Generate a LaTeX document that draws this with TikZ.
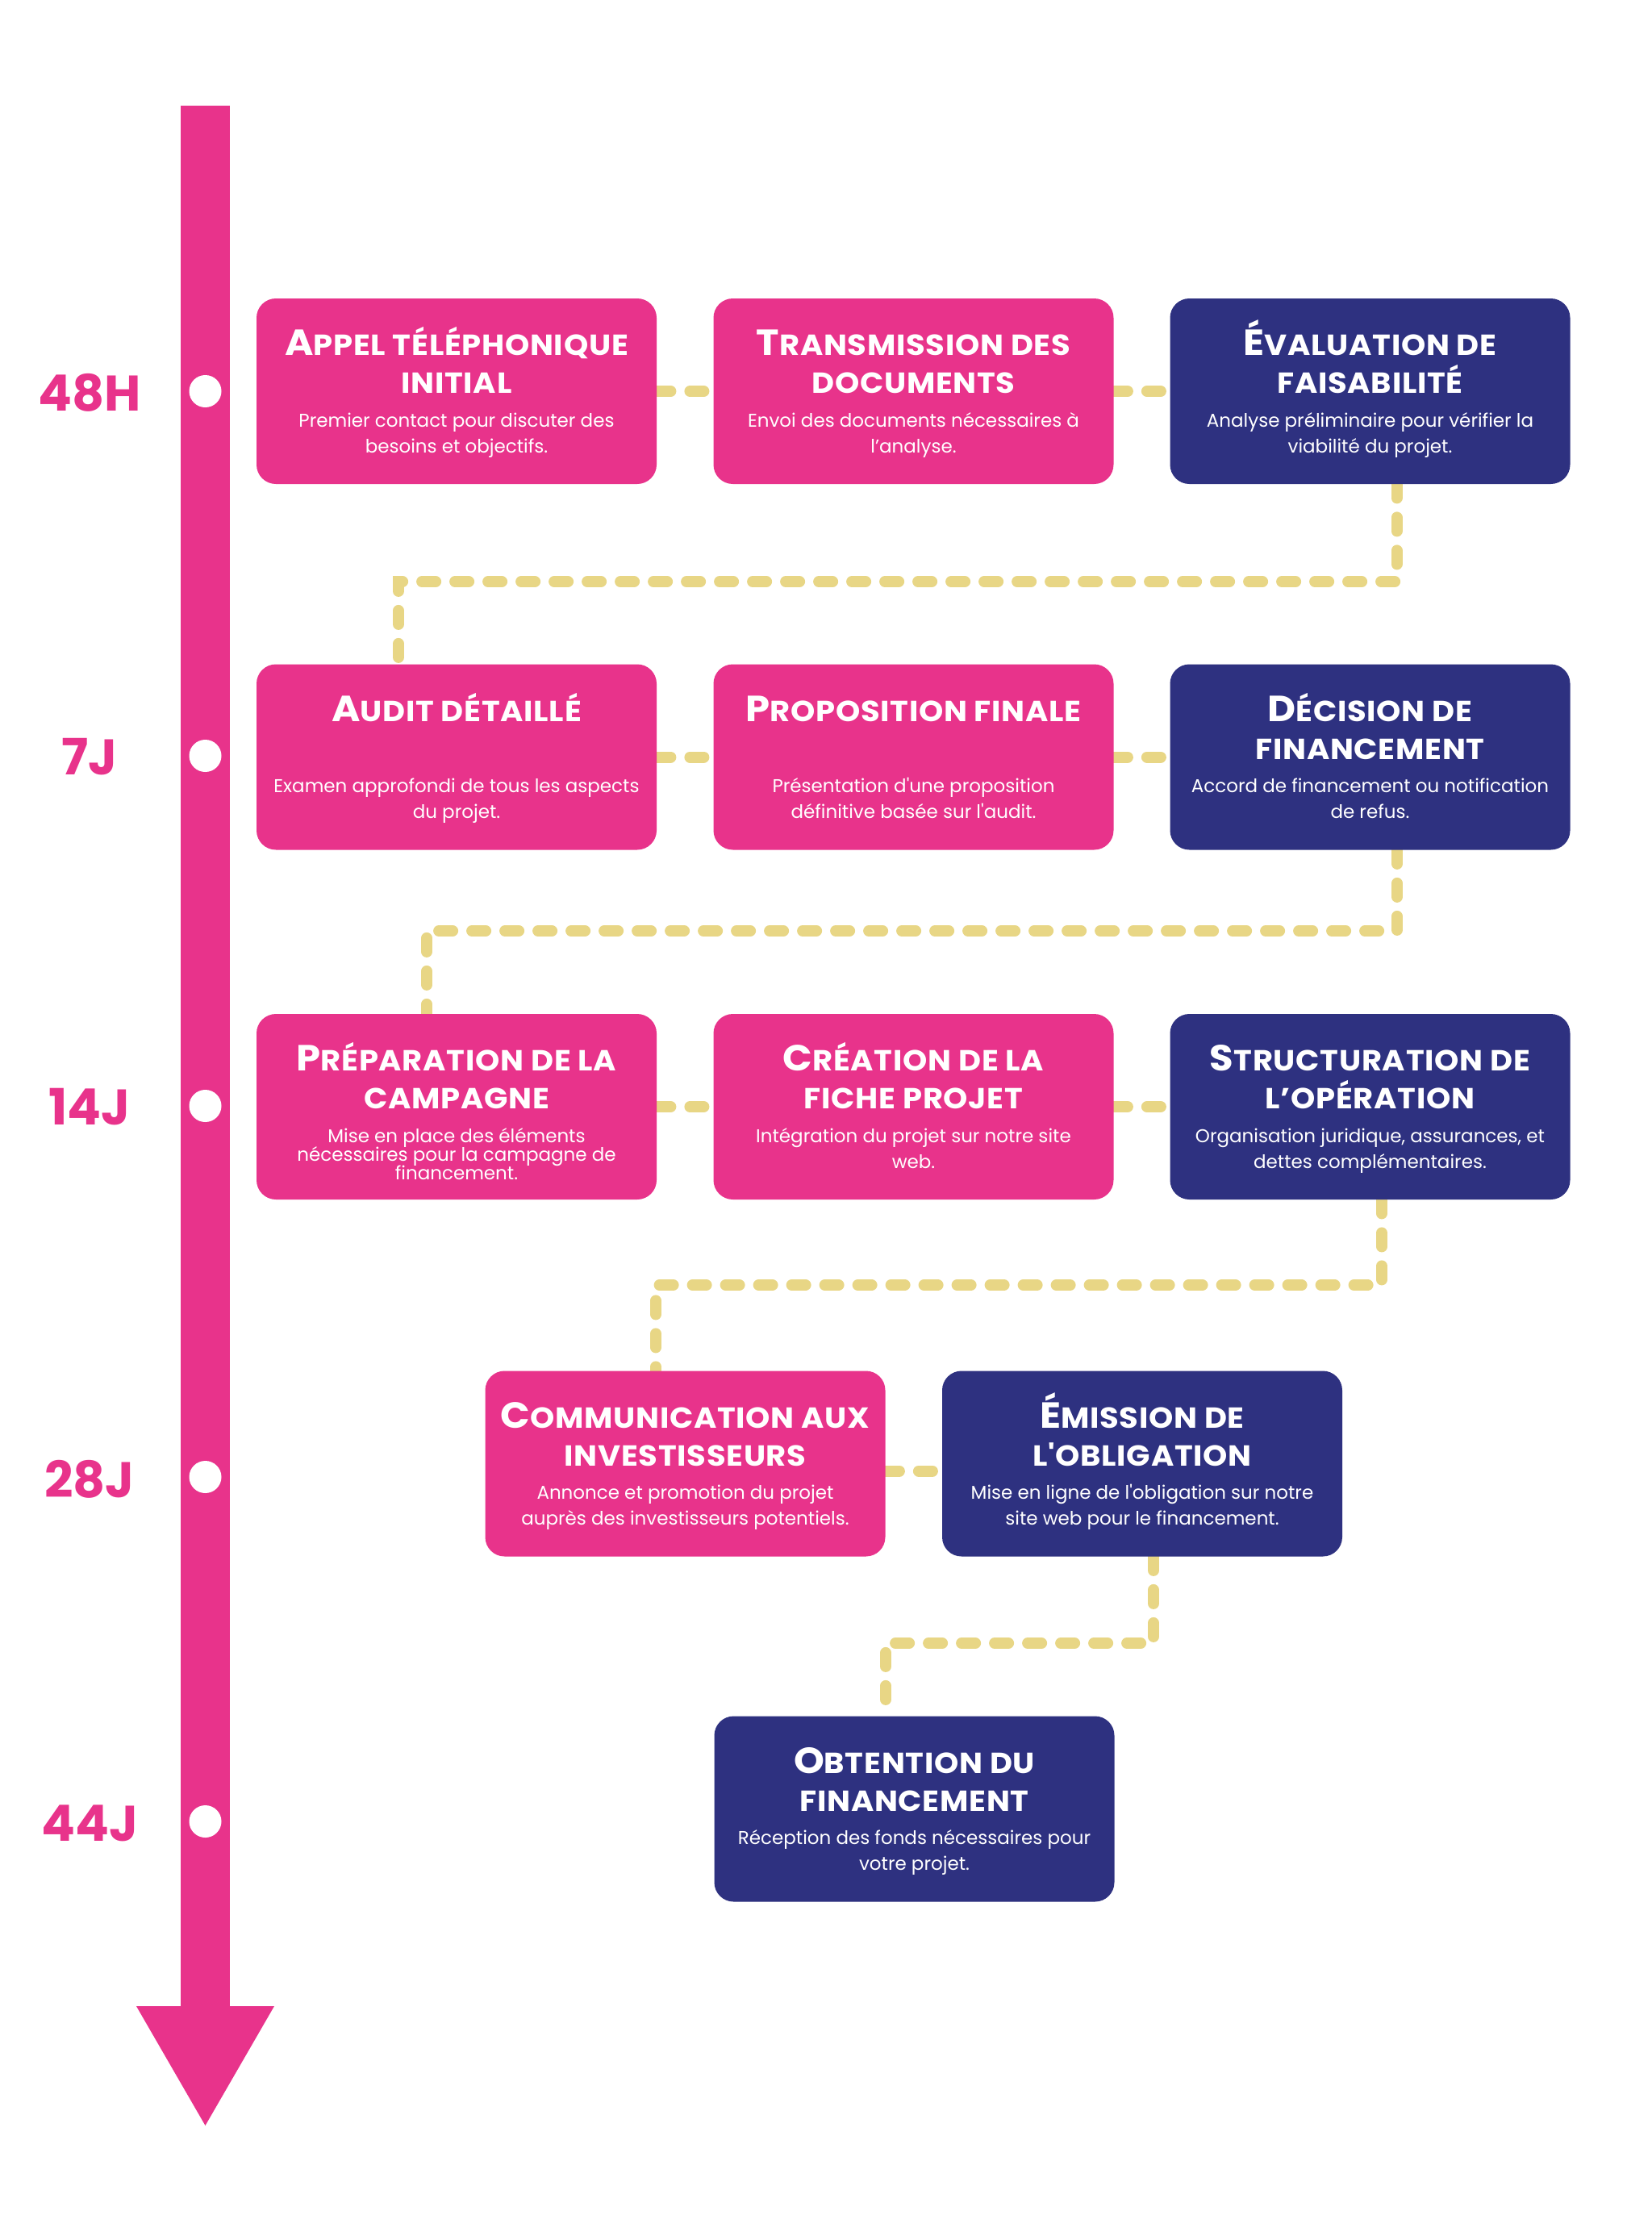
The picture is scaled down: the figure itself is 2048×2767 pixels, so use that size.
\documentclass[tikz,border=0pt]{standalone}
\usepackage{fontspec}
\setmainfont{Poppins}[Ligatures=TeXOff]
\newfontfamily\ttlfont{Poppins}[Ligatures=TeXOff, FakeStretch=1.07, LetterSpace=2]
\usetikzlibrary{calc,backgrounds}
\definecolor{pinkc}{HTML}{E8338B}
\definecolor{navyc}{HTML}{2E3180}
\definecolor{dashc}{HTML}{E8D685}
\tikzset{
 card/.style={rectangle, rounded corners=12pt, minimum width=248pt, minimum height=115pt, inner sep=0pt},
 ttl/.style={text=white, font=\ttlfont\bfseries\fontsize{18pt}{20pt}\selectfont, inner sep=0pt, anchor=base},
 dsc/.style={text=white, font=\fontsize{11.5pt}{16pt}\selectfont, align=center, inner sep=0pt, anchor=north},
 conn/.style={draw=dashc, line width=7pt, line cap=round, dash pattern=on 8.5pt off 12pt},
 lbl/.style={text=pinkc, font=\bfseries\fontsize{31pt}{34pt}\selectfont, inner sep=0pt},
 tdot/.style={circle, fill=white, minimum size=20pt, inner sep=0pt},
}
\newcommand\Bg[1]{{\fontsize{22.5pt}{24pt}\selectfont #1}}
\newcommand\stepcard[7]{%
 \node[card, fill=#4] (#1) at (#2,#3) {};
 \node[ttl] (#1-ta) at ([yshift=-35.5pt]#1.north) {#5};
 \node[ttl] (#1-tb) at ([yshift=-59pt]#1.north) {#6};
 \node[dsc] (#1-d) at ([yshift=-70pt]#1.north) {\rule{0pt}{9.5pt}#7};
}
\newcommand\stepcardone[6]{%
 \node[card, fill=#4] (#1) at (#2,#3) {};
 \node[ttl] (#1-ta) at ([yshift=-35.5pt]#1.north) {#5};
 \node[dsc] (#1-d) at ([yshift=-70pt]#1.north) {\rule{0pt}{9.5pt}#6};
}
\begin{document}
\begin{tikzpicture}[x=0.5pt,y=-0.5pt]
\useasboundingbox (0,0) rectangle (2048,2767);
% timeline arrow
\fill[pinkc] (224,131) rectangle (285,2490);
\fill[pinkc] (169,2487) -- (340,2487) -- (254.5,2635) -- cycle;
% dots
\node[tdot] (p1) at (254.5,485) {};
\node[tdot] (p2) at (254.5,937) {};
\node[tdot] (p3) at (254.5,1371) {};
\node[tdot] (p4) at (254.5,1831) {};
\node[tdot] (p5) at (254.5,2258) {};
% labels
\node[lbl] (l1) at (111,487) {48H};
\node[lbl] (l2) at (111,938) {7J};
\node[lbl] (l3) at (111,1372) {14J};
\node[lbl] (l4) at (111,1834) {28J};
\node[lbl] (l5) at (111,2260) {44J};
% cards
\stepcard{b1}{566}{485}{pinkc}{\Bg{A}PPEL TÉLÉPHONIQUE}{INITIAL}{Premier contact pour discuter des\\besoins et objectifs.}
\stepcard{b2}{1132.5}{485}{pinkc}{\Bg{T}RANSMISSION DES}{DOCUMENTS}{Envoi des documents nécessaires à\\l’analyse.}
\stepcard{b3}{1698.5}{485}{navyc}{\Bg{É}VALUATION DE}{FAISABILITÉ}{Analyse préliminaire pour vérifier la\\viabilité du projet.}
\stepcardone{b4}{566}{938.5}{pinkc}{\Bg{A}UDIT DÉTAILLÉ}{Examen approfondi de tous les aspects\\du projet.}
\stepcardone{b5}{1132.5}{938.5}{pinkc}{\Bg{P}ROPOSITION FINALE}{Présentation d'une proposition\\définitive basée sur l'audit.}
\stepcard{b6}{1698.5}{938.5}{navyc}{\Bg{D}ÉCISION DE}{FINANCEMENT}{Accord de financement ou notification\\de refus.}
\stepcard{b7}{566}{1372}{pinkc}{\Bg{P}RÉPARATION DE LA}{CAMPAGNE}{Mise en place des éléments\\[-4.5pt]nécessaires pour la campagne de\\[-4.5pt]financement.}
\stepcard{b8}{1132.5}{1372}{pinkc}{\Bg{C}RÉATION DE LA}{FICHE PROJET}{Intégration du projet sur notre site\\web.}
\stepcard{b9}{1698.5}{1372}{navyc}{\Bg{S}TRUCTURATION DE}{L’OPÉRATION}{Organisation juridique, assurances, et\\dettes complémentaires.}
\stepcard{b10}{849.5}{1814.5}{pinkc}{\Bg{C}OMMUNICATION AUX}{INVESTISSEURS}{Annonce et promotion du projet\\auprès des investisseurs potentiels.}
\stepcard{b11}{1416}{1814.5}{navyc}{\Bg{É}MISSION DE}{L'OBLIGATION}{Mise en ligne de l'obligation sur notre\\site web pour le financement.}
\stepcard{b12}{1133.5}{2242.5}{navyc}{\Bg{O}BTENTION DU}{FINANCEMENT}{Réception des fonds nécessaires pour\\votre projet.}
% connectors
\coordinate (j1) at (494,721);
\coordinate (j2) at (529,1154);
\coordinate (j3) at (813,1593);
\coordinate (j4) at (1098,2037);
\begin{scope}[on background layer]
\draw[conn] (b1.east) -- (b2.west);
\draw[conn] (b2.east) -- (b3.west);
\draw[conn] (b4.east) -- (b5.west);
\draw[conn] (b5.east) -- (b6.west);
\draw[conn] (b7.east) -- (b8.west);
\draw[conn] (b8.east) -- (b9.west);
\draw[conn] ($(b10.east)+(0,9)$) -- ($(b11.west)+(0,9)$);
\draw[conn] ([xshift=16.5pt]b3.south) |- (j1) -- (b4.north -| j1);
\draw[conn] ([xshift=16.75pt]b6.south) |- (j2) -- (b7.north -| j2);
\draw[conn] ([xshift=7.25pt]b9.south) |- (j3) -- (b10.north -| j3);
\draw[conn] ([xshift=7pt]b11.south) |- (j4) -- (b12.north -| j4);
\end{scope}
\end{tikzpicture}
\end{document}
